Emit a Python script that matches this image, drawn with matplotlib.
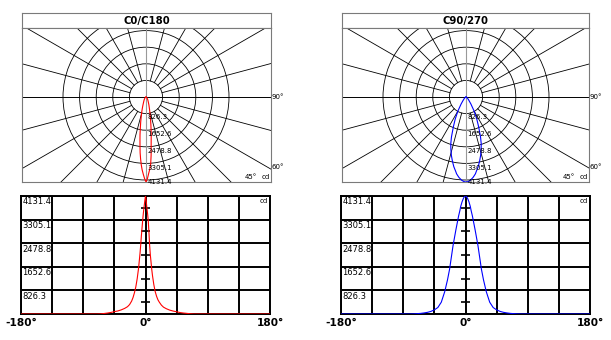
import numpy as np
import matplotlib
matplotlib.use("Agg")
import matplotlib.pyplot as plt
from matplotlib.patches import Circle

W, H = 611, 340

I_MAX = 4131.4
levels = [826.3, 1652.6, 2478.8, 3305.1, 4131.4]
level_labels = ["826.3", "1652.6", "2478.8", "3305.1", "4131.4"]

# gamma angles (deg), negative side = C180 / C270
angles = [-180, -90, -80, -75, -70, -65, -60, -55, -50, -45, -40, -35, -30, -26, -23,
          -20, -18, -16, -14, -12, -10, -9, -8, -7, -6, -5, -4, -3, -2, -1,
          0, 1, 2, 3, 4, 5, 6, 7, 8, 9, 10, 12, 14, 16, 18, 20, 23, 26, 30,
          35, 40, 45, 50, 55, 60, 65, 70, 75, 80, 90, 180]

# intensity in cd
c0_c180 = [0, 0, 0, 0, 0, 4, 17, 33, 54, 83, 107, 145, 198, 256, 331,
           454, 578, 744, 950, 1239, 1611, 1859, 2107, 2396, 2727, 3016, 3305, 3553, 3760, 3966,
           4131, 3966, 3718, 3512, 3264, 2851, 2396, 2066, 1818, 1570, 1363, 1033, 785, 620, 496, 413, 310, 240, 186,
           136, 103, 78, 50, 33, 21, 8, 0, 0, 0, 0, 0]

c90_c270 = [0, 0, 0, 4, 12, 21, 37, 58, 91, 145, 227, 413, 785, 1198, 1570,
            2066, 2396, 2665, 2933, 3181, 3429, 3532, 3636, 3760, 3842, 3925, 3987, 4049, 4090, 4123,
            4131, 4123, 4090, 4049, 3987, 3925, 3842, 3760, 3636, 3532, 3429, 3181, 2933, 2665, 2396, 2066, 1570, 1198, 785,
            413, 227, 145, 91, 58, 37, 21, 12, 4, 0, 0, 0]

R_OUT = 85.0      # polar radius (px) for I_MAX
RING = 16.6       # spacing of the polar rings (px)
FRAME = "#7a7a7a"


def frac(x0, y0, x1, y1):
    return [x0 / W, 1 - y1 / H, (x1 - x0) / W, (y1 - y0) / H]


def draw_polar(fig, x0, x1, cx, title, values, color):
    axt = fig.add_axes(frac(x0, 13, x1, 28))
    axt.set_xticks([])
    axt.set_yticks([])
    for s in axt.spines.values():
        s.set_color(FRAME)
        s.set_linewidth(0.8)
    axt.text(0.5, 0.45, title, ha="center", va="center", fontsize=7.3,
             fontweight="bold", transform=axt.transAxes)

    ax = fig.add_axes(frac(x0, 28, x1, 182))
    ax.set_xlim(x0 - cx, x1 - cx)
    ax.set_ylim(-85, 69)
    ax.set_xticks([])
    ax.set_yticks([])
    for s in ax.spines.values():
        s.set_color(FRAME)
        s.set_linewidth(0.8)

    for k in range(1, 6):
        ax.add_patch(Circle((0, 0), RING * k, fill=False, ec="black", lw=0.6))
    for a in range(15, 360, 15):
        if a % 90 == 0:
            continue
        t = np.radians(a)
        ax.plot([RING * np.sin(t), 300 * np.sin(t)], [RING * np.cos(t), 300 * np.cos(t)],
                color="black", lw=0.6)
    ax.axhline(0, color="black", lw=0.7)
    ax.axvline(0, color="#999999", lw=0.8)

    th = np.radians(angles)
    r = np.array(values) / I_MAX * R_OUT
    ax.plot(r * np.sin(th), -r * np.cos(th), color=color, lw=0.8, zorder=5)

    for lvl, lab in zip(levels, level_labels):
        y = max(-lvl / I_MAX * R_OUT, -82)
        ax.text(1.2, y, lab, ha="left", va="top", fontsize=5, zorder=6)

    ax.text(x1 - cx - 14, -80, "45°", fontsize=5, ha="right", va="center")
    ax.text(x1 - cx - 1, -80, "cd", fontsize=5, ha="right", va="center")
    ax.text(x1 - cx + 1, 0, "90°", fontsize=5, ha="left", va="center", clip_on=False)
    ax.text(x1 - cx + 1, -70, "60°", fontsize=5, ha="left", va="center", clip_on=False)


def draw_linear(fig, x0, x1, values, color):
    ax = fig.add_axes(frac(x0, 196, x1, 314))
    ax.set_xlim(-180, 180)
    ax.set_ylim(0, I_MAX)
    ax.set_xticks(range(-180, 181, 45))
    ax.set_xticklabels(["-180°", "", "", "", "0°", "", "", "", "180°"],
                       fontsize=7.6, fontweight="bold")
    ax.set_yticks([0] + levels)
    ax.set_yticklabels([])
    ax.tick_params(length=0, pad=3)
    ax.grid(True, color="black", lw=1.4)
    for s in ax.spines.values():
        s.set_color("black")
        s.set_linewidth(1.4)

    half = [lvl - levels[0] / 2 for lvl in levels]
    ax.hlines(half, -6.5, 6.5, color="black", lw=1.2)

    ax.plot(angles, values, color=color, lw=0.8, zorder=5)

    for lvl, lab in zip(levels, level_labels):
        ax.annotate(lab, (-180, lvl), xytext=(1, -1), textcoords="offset points",
                    ha="left", va="top", fontsize=6)
    ax.annotate("cd", (180, I_MAX), xytext=(-1.5, -1.5), textcoords="offset points",
                ha="right", va="top", fontsize=5)


fig = plt.figure(figsize=(W / 100, H / 100), dpi=100)

draw_polar(fig, 22, 271, 146, "C0/C180", c0_c180, "#ff0000")
draw_polar(fig, 342, 589, 466, "C90/270", c90_c270, "#0000ff")
draw_linear(fig, 21, 270, c0_c180, "#ff0000")
draw_linear(fig, 341, 590, c90_c270, "#0000ff")

fig.savefig("out.png", dpi=100)
